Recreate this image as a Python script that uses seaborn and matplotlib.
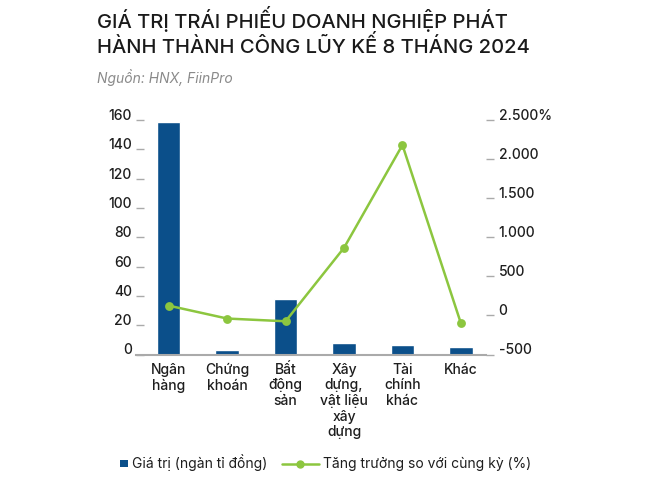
import numpy as np
import pandas as pd
import matplotlib
matplotlib.use("Agg")
import matplotlib.pyplot as plt
import seaborn as sns
from matplotlib.lines import Line2D
from matplotlib.patches import Rectangle, Patch
from matplotlib.legend_handler import HandlerLine2D, HandlerPatch

# ---- data ----
categories = ["Ngân\nhàng", "Chứng\nkhoán", "Bất\nđộng\nsản",
              "Xây\ndựng,\nvật liệu\nxây\ndựng", "Tài\nchính\nkhác", "Khác"]
values = [158.5, 3.4, 38, 8, 6.5, 5]         # ngàn tỉ đồng
growth = [125, -40, -75, 865, 2180, -100]    # % so với cùng kỳ
left_ticks = [0, 20, 40, 60, 80, 100, 120, 140, 160]
right_ticks = [-500, 0, 500, 1000, 1500, 2000, 2500]
right_labels = ["-500", "0", "500", "1.000", "1.500", "2.000", "2.500%"]
legend_bar = "Giá trị (ngàn tỉ đồng)"
legend_line = "Tăng trưởng so với cùng kỳ (%)"
title_lines = ["GIÁ TRỊ TRÁI PHIẾU DOANH NGHIỆP PHÁT",
               "HÀNH THÀNH CÔNG LŨY KẾ 8 THÁNG 2024"]
source = "Nguồn: HNX, FiinPro"

BLUE = "#0B4F8A"
GREEN = "#8CC63F"
FONT = ["Inter", "DejaVu Sans"]

sns.set_theme(style="white")
plt.rcParams["font.family"] = FONT

df = pd.DataFrame({"cat": categories, "val": values, "growth": growth})

fig = plt.figure(figsize=(6.69, 4.84), dpi=100)
ax = fig.add_axes([136 / 669, 1 - 354.5 / 484, 350 / 669, 234.5 / 484])

sns.barplot(data=df, x="cat", y="val", color=BLUE, width=0.4,
            saturation=1, ax=ax)
ax.set_xlabel("")
ax.set_ylabel("")
ax.set_ylim(0, 160)
ax.set_yticks(left_ticks)
ax.set_yticklabels([str(t) for t in left_ticks])
for lab in ax.get_yticklabels():
    lab.set_verticalalignment("baseline")
    lab.set_fontweight("medium")
ax.tick_params(axis="y", direction="in", length=6, width=1, color="#aaaaaa",
               pad=3, labelsize=10, labelcolor="#1e1e1e")
ax.tick_params(axis="x", length=0, pad=6, labelsize=10, labelcolor="#1e1e1e")
for lab in ax.get_xticklabels():
    lab.set_linespacing(1.15)
    lab.set_verticalalignment("top")
    lab.set_fontweight("medium")

ax2 = ax.twinx()
sns.pointplot(data=df, x="cat", y="growth", color=GREEN, ax=ax2,
              markers="o", markersize=5, linewidth=1.8, errorbar=None)
ax2.set_ylabel("")
ax2.set_xlabel("")
ax2.set_ylim(-500, 2500)
ax2.set_yticks(right_ticks)
ax2.set_yticklabels(right_labels)
for lab in ax2.get_yticklabels():
    lab.set_verticalalignment("baseline")
    lab.set_fontweight("medium")
ax2.tick_params(axis="y", direction="out", length=6, width=1, color="#aaaaaa",
                pad=3, labelsize=10, labelcolor="#1e1e1e")
ax.set_xlim(-0.56, 5.43)
ax2.set_xlim(-0.56, 5.43)

for a in (ax, ax2):
    for s in ("top", "left", "right", "bottom"):
        a.spines[s].set_visible(False)
ax.spines["bottom"].set_visible(True)
ax.spines["bottom"].set_color("#aaaaaa")
ax.spines["bottom"].set_linewidth(1.5)
ax.set_zorder(ax2.get_zorder() - 1)
ax2.patch.set_visible(False)

# ---- titles ----
for line, base_y in zip(title_lines, (28, 53)):
    fig.text(97 / 669, 1 - base_y / 484, line, ha="left", va="baseline",
             fontsize=14.5, color="#1a1a1a", fontweight="medium")
fig.text(97 / 669, 1 - 78 / 484, source, ha="left", va="center", fontsize=10,
         color="#8a8a8a", style="italic")

# ---- legend ----
class EndMarkerHandler(HandlerLine2D):
    def get_xdata(self, legend, xdescent, ydescent, width, height, fontsize):
        xdata, _ = super().get_xdata(legend, xdescent, ydescent, width, height, fontsize)
        return xdata, np.array([xdata[-1]])

def square_patch(legend, orig_handle, xdescent, ydescent, width, height, fontsize):
    s = 0.55 * fontsize
    return Rectangle((-xdescent + width - s, -ydescent + (height - s) / 2), s, s)

h_bar = Patch(facecolor=BLUE, edgecolor="none")
h_line = Line2D([], [], color=GREEN, lw=1.8, marker="o", markersize=5)
fig.legend([h_bar, h_line], [legend_bar, legend_line],
           handler_map={Patch: HandlerPatch(patch_func=square_patch),
                        Line2D: EndMarkerHandler(numpoints=1)},
           loc="center", bbox_to_anchor=(311 / 669, 1 - 463 / 484), ncol=2,
           frameon=False, fontsize=10, handlelength=2.7, handletextpad=0.3,
           columnspacing=1.0, labelcolor="#1e1e1e")

fig.savefig("out.png", dpi=100)
